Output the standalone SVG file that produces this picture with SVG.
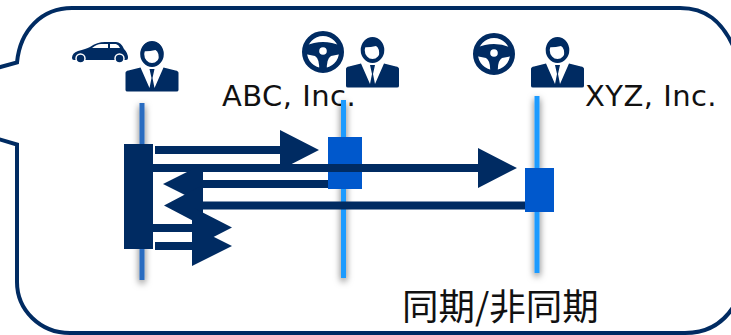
<svg xmlns="http://www.w3.org/2000/svg" width="731" height="335" viewBox="0 0 731 335">
<style>
.ink{fill:#002b62}
.head{fill:#fff;stroke:#002b62;stroke-width:4}
.wheel{fill:none;stroke:#002b62}
.lbl{font-family:"DejaVu Sans","Noto Sans CJK JP",sans-serif;font-size:29px;letter-spacing:.45px;fill:#111}
.cjk{font-family:"Noto Sans CJK JP","DejaVu Sans",sans-serif;font-size:36.500px;fill:#111}
.act{fill:#0058cc}
.sky{fill:#1e9bff}
</style>
<defs>
<filter id="sh" x="-500%" y="-10%" width="1100%" height="120%">
<feDropShadow dx="0" dy="3" stdDeviation="3.500" flood-color="#000" flood-opacity="0.6"/>
</filter>
<g id="person">
<path class="ink" d="M0 19Q0 17 3 16.500L15 13.500L24 34L26 24L24 15H29L27 24L29 34L38 13.500L50 16.500Q53 17 53 19V36Q53 37.500 51 37.500H2Q0 37.500 0 36Z"/>
<ellipse class="head" cx="26.500" cy="0" rx="9.800" ry="11"/>
<path class="ink" d="M16 -3Q17 -12 26.500 -12Q36 -12 37 -3Q37 3 33 7Q34 -2 30 -4Q22 -2 16 -3Z"/>
</g>
<g id="wheel">
<circle class="wheel" cx="0" cy="0" r="18.500" stroke-width="5"/>
<path class="ink" d="M-18 -6Q0 -14 18 -6L18 2L8 4Q3 7 4 19H-4Q-3 7 -8 4L-18 2Z"/>
<circle cx="0" cy="-1" r="3.800" fill="#fff"/>
</g>
</defs>
<g id="callout">
<path d="M-5 68.500L17 62.500C20 30 42 8 72 8H680C705 8 722 20 735 50L745 280C735 315 715 333 685 333H70C40 333 17 310 17 282V144.500L-5 138" fill="#fff" stroke="#002b62" stroke-width="4"/>
</g>
<g id="labels">
<text class="lbl" x="222" y="106">ABC, Inc.</text>
<text class="lbl" x="585" y="106">XYZ, Inc.</text>
<text class="cjk" x="402" y="320">同期/非同期</text>
</g>
<g id="lifelines">
<rect x="139.500" y="103" width="5" height="177" fill="#2a6cc0" filter="url(#sh)"/>
<rect class="sky" x="341" y="100" width="5" height="178" filter="url(#sh)"/>
<rect class="sky" x="534.500" y="96" width="5" height="177" filter="url(#sh)"/>
</g>
<g id="node-car">
<path class="ink" d="M72 58Q72 53 78 51Q86 49 90 47Q97 42 105 42H116Q121 42 124 49Q128 53 128 58Q128 60 126 60H74Q72 60 72 58Z"/>
<path d="M92 48Q97 44 101 44H108V48ZM110 44H116Q119 45 120 48H110Z" fill="#fff"/>
<circle cx="80.500" cy="58.500" r="4.500" fill="#002b62" stroke="#fff" stroke-width="1.500"/>
<circle cx="119.500" cy="58.500" r="4.500" fill="#002b62" stroke="#fff" stroke-width="1.500"/>
</g>
<g id="node-client">
<use href="#person" x="125.500" y="54"/>
<rect class="ink" x="124" y="144" width="29" height="105"/>
</g>
<g id="node-abc">
<use href="#wheel" x="323" y="52"/>
<use href="#person" x="346" y="50"/>
<rect class="act" x="328" y="137" width="34" height="52"/>
</g>
<g id="node-xyz">
<use href="#wheel" x="494" y="54"/>
<use href="#person" x="531" y="50"/>
<rect class="act" x="525" y="168" width="29" height="44"/>
</g>
<g id="connectors" class="ink">
<path d="M155 146H280V130L319 150L280 170V154H155Z"/>
<path d="M153 164H478V148L517 168L478 188V172H153Z"/>
<path d="M328 180H203V164L163 184L203 204V188H328Z"/>
<path d="M525 201.500H203V185L164 205.500L203 226V209.500H525Z"/>
<path d="M153 224H192V207L232 227.500L192 248V232H153Z"/>
<path d="M155 242H192V226L232 246L192 266V250H155Z"/>
</g>
</svg>
